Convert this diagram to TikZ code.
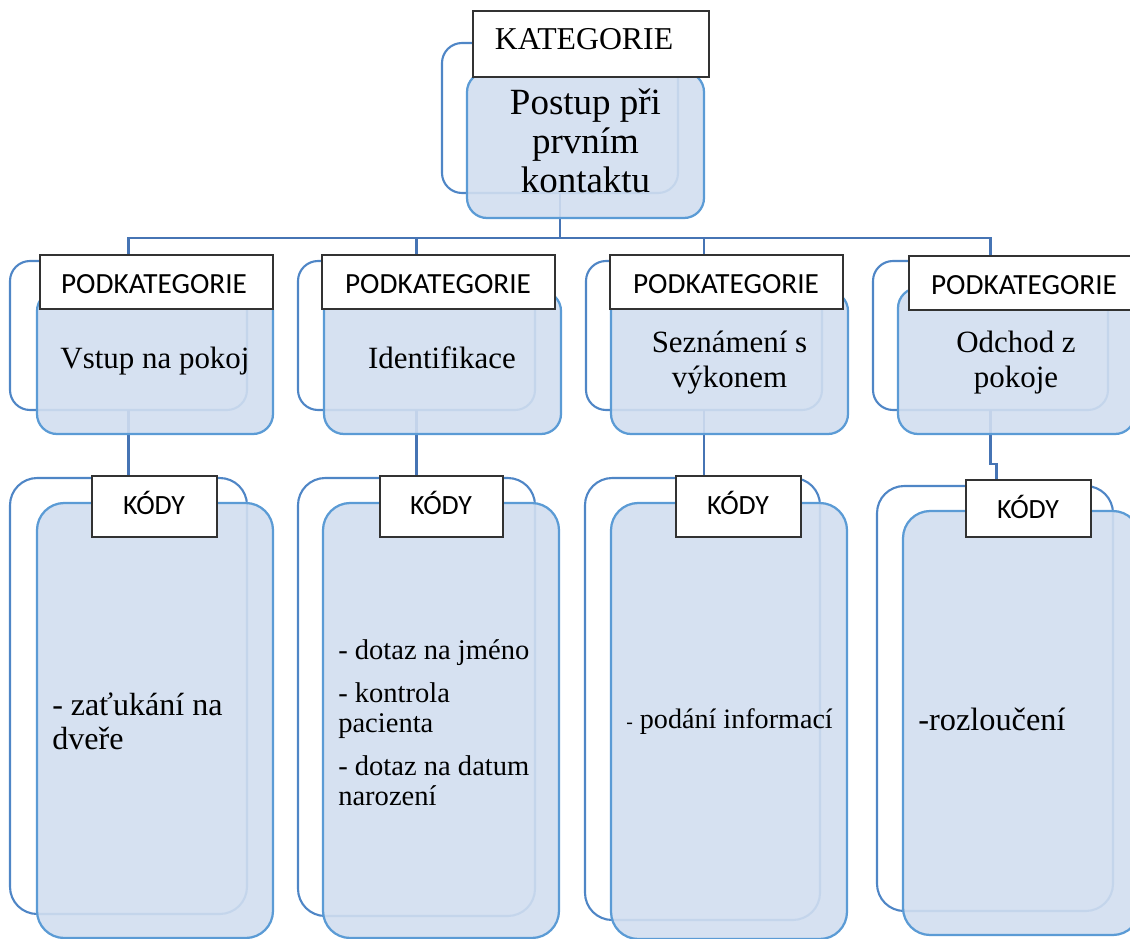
\documentclass[tikz,border=0pt]{standalone}
\usepackage{fontspec}
\setmainfont{Liberation Serif}
\newfontfamily\carlitofont{Carlito}
\newlength\pxl
\setlength\pxl{0.025cm}
\definecolor{frontblue}{RGB}{91,155,213}
\definecolor{backblue}{RGB}{79,134,198}
\definecolor{connblue}{RGB}{70,116,180}
\definecolor{panelfill}{RGB}{209,222,240}
\definecolor{tagline}{RGB}{50,50,50}
% box from its top-left to its bottom-right corner, in pixel units
\newcommand\pxbox[6]{\node[#1,anchor=north west,minimum width={(#5-(#3))*\pxl},minimum height={(#6-(#4))*\pxl}] (#2) at (#3,#4) {};}
\tikzset{
  backframe/.style={draw=backblue,line width=1.5pt,rounded corners=0.5cm,inner sep=0pt,outer sep=0pt},
  frontpanel/.style={draw=frontblue,line width=1.6pt,fill=panelfill,fill opacity=0.9,rounded corners=0.5cm,inner sep=0pt,outer sep=0pt},
  codeback/.style={backframe,rounded corners=0.68cm},
  codefront/.style={frontpanel,rounded corners=0.68cm},
  tag/.style={draw=tagline,line width=0.9pt,fill=white,inner sep=0pt,outer sep=0pt},
  conn/.style={draw=connblue,line width=1.5pt},
  % multi-line texts are placed by the baseline of their last line
  toptext/.style={align=center,anchor=base,inner sep=0pt,font={\fontsize{26.3}{27.4}\selectfont}},
  subtext/.style={align=center,anchor=base,inner sep=0pt,font={\fontsize{22}{24.2}\selectfont}},
  codetext/.style={align=left,anchor=base west,inner sep=0pt},
  tagserif/.style={anchor=base,inner sep=0pt,font={\fontsize{22.6}{26}\selectfont}},
  tagsans/.style={anchor=base,inner sep=0pt,font={\carlitofont\fontsize{20.8}{24}\selectfont}},
  tagcode/.style={anchor=base,inner sep=0pt,font={\carlitofont\fontsize{19.8}{24}\selectfont}},
}
\begin{document}
\begin{tikzpicture}[x=0.025cm,y=-0.025cm]
\useasboundingbox (0,0) rectangle (1130,939);
\clip (0,0) rectangle (1130,939);

% back frames
\pxbox{backframe}{backT}{442}{43}{678}{193}
\pxbox{backframe}{backS1}{10}{261}{247}{410}
\pxbox{backframe}{backS2}{298}{261}{535}{410}
\pxbox{backframe}{backS3}{586}{261}{822}{410}
\pxbox{backframe}{backS4}{873}{261}{1108}{410}
\pxbox{codeback}{backC1}{10}{478}{247}{914}
\pxbox{codeback}{backC2}{298}{478}{535}{916}
\pxbox{codeback}{backC3}{585}{478}{820}{920}
\pxbox{codeback}{backC4}{877}{486}{1113}{911}

% connectors
\coordinate (bus) at (0,238);
\draw[conn] (backT.south) -- (backT.south |- bus) -| (backS1.north);
\draw[conn] (backT.south |- bus) -| (backS2.north);
\draw[conn] (backT.south |- bus) -| (backS3.north);
\draw[conn] (backT.south |- bus) -| (backS4.north);
\draw[conn] (backS1.south) -- (backS1.south |- backC1.north);
\draw[conn] (backS2.south) -- (backS2.south |- backC2.north);
\draw[conn] (backS3.south) -- (backS3.south |- backC3.north);
\draw[conn] (backS4.south) -- ++(0,54) -- ++(6,0) -- ++(0,22);

% front panels
\pxbox{frontpanel}{frontT}{467}{72}{704}{218}
\pxbox{frontpanel}{frontS1}{37}{291}{273}{434}
\pxbox{frontpanel}{frontS2}{324}{291}{561}{434}
\pxbox{frontpanel}{frontS3}{611}{291}{848}{434}
\pxbox{frontpanel}{frontS4}{898}{288}{1135}{434}
\pxbox{codefront}{frontC1}{37}{503}{273}{938}
\pxbox{codefront}{frontC2}{323}{503}{559}{938}
\pxbox{codefront}{frontC3}{611}{503}{847}{939}
\pxbox{codefront}{frontC4}{903}{511}{1140}{935}

% tags
\pxbox{tag}{tagT}{473}{11}{709}{77}
\pxbox{tag}{tagS1}{40}{255}{273}{309}
\pxbox{tag}{tagS2}{322}{255}{555}{309}
\pxbox{tag}{tagS3}{610}{255}{843}{309}
\pxbox{tag}{tagS4}{909}{256}{1142}{310}
\pxbox{tag}{tagC1}{92}{476}{217}{537}
\pxbox{tag}{tagC2}{380}{476}{503}{537}
\pxbox{tag}{tagC3}{676}{476}{801}{537}
\pxbox{tag}{tagC4}{966}{480}{1091}{537}

\node[tagserif] (tagTtext) at (584,50) {KATEGORIE};
\node[tagsans] (tagS1text) at (154,293) {PODKATEGORIE};
\node[tagsans] (tagS2text) at (438,293) {PODKATEGORIE};
\node[tagsans] (tagS3text) at (726,293) {PODKATEGORIE};
\node[tagsans] (tagS4text) at (1024,294) {PODKATEGORIE};
\node[tagcode] (tagC1text) at (154,514) {KÓDY};
\node[tagcode] (tagC2text) at (441,514) {KÓDY};
\node[tagcode] (tagC3text) at (738,514) {KÓDY};
\node[tagcode] (tagC4text) at (1028,518) {KÓDY};

% panel texts
\node[toptext] (topText) at (585.5,192) {Postup při\\prvním\\kontaktu};
\node[subtext] (s1Text) at (155,368) {Vstup na pokoj};
\node[subtext] (s2Text) at (442,368) {Identifikace};
\node[subtext] (s3Text) at (729.5,387) {Seznámení s\\výkonem};
\node[subtext] (s4Text) at (1016,387) {Odchod z\\pokoje};

\node[codetext,font={\fontsize{22.8}{23.5}\selectfont}] (c1Text) at (52,749) {- zaťukání na\\dveře};
\node[codetext,font={\fontsize{20.3}{21.3}\selectfont}] (c2Text) at (338,805)
  {- dotaz na jméno\\[9.3pt]- kontrola\\pacienta\\[9.3pt]- dotaz na datum\\narození};
\node[codetext,font={\fontsize{20}{22}\selectfont}] (c3Text) at (626,728) {{\fontsize{14}{16}\selectfont-} podání informací};
\node[codetext,font={\fontsize{23}{25}\selectfont}] (c4Text) at (918,730) {-rozloučení};
\end{tikzpicture}
\end{document}
